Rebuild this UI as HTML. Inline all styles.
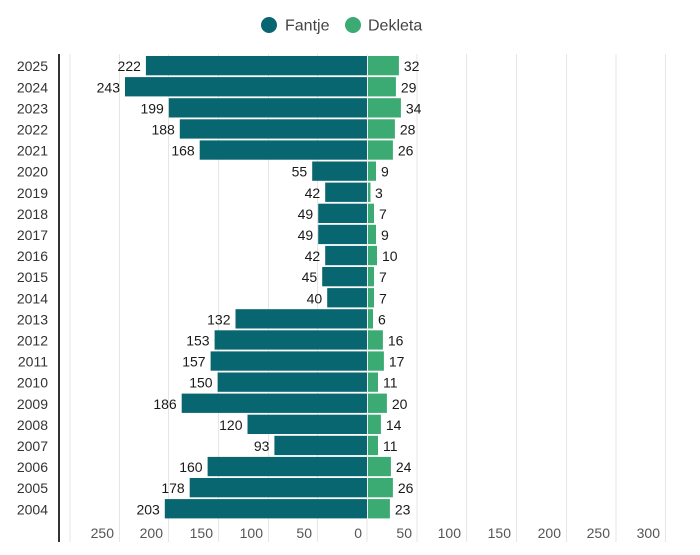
<!DOCTYPE html>
<html><head><meta charset="utf-8"><style>
html,body{margin:0;padding:0;background:#fff;}
svg{display:block;font-family:"Liberation Sans",Arial,sans-serif;}
.yl{font-size:14px;fill:#333;text-anchor:end;}
.vl{font-size:14px;fill:#1a1a1a;}
.tl{font-size:14px;fill:#555;text-anchor:end;}
.t{fill:#086671;}
.g{fill:#3caa73;}
.grid line{stroke:#e6e6e6;stroke-width:1;}
</style></head><body>
<svg width="700" height="555" viewBox="0 0 700 555" xmlns="http://www.w3.org/2000/svg">
<!-- legend -->
<circle cx="269" cy="25" r="8" fill="#086671"/>
<text x="285" y="30.5" font-size="16" fill="#444">Fantje</text>
<circle cx="353" cy="25" r="8" fill="#3caa73"/>
<text x="368" y="30.5" font-size="16" fill="#444">Dekleta</text>
<!-- grid -->
<g class="grid">
<line x1="70" y1="54" x2="70" y2="542"/>
<line x1="119.5" y1="54" x2="119.5" y2="542"/>
<line x1="168.5" y1="54" x2="168.5" y2="542"/>
<line x1="218.5" y1="54" x2="218.5" y2="542"/>
<line x1="268.5" y1="54" x2="268.5" y2="542"/>
<line x1="317.5" y1="54" x2="317.5" y2="542"/>
<line x1="367" y1="54" x2="367" y2="542"/>
<line x1="417" y1="54" x2="417" y2="542"/>
<line x1="466.5" y1="54" x2="466.5" y2="542"/>
<line x1="516.5" y1="54" x2="516.5" y2="542"/>
<line x1="566.5" y1="54" x2="566.5" y2="542"/>
<line x1="616" y1="54" x2="616" y2="542"/>
<line x1="665.5" y1="54" x2="665.5" y2="542"/>
</g>
<line x1="59" y1="54" x2="59" y2="542" stroke="#333" stroke-width="2"/>
<!-- tick labels -->
<text class="tl" x="114" y="538">250</text>
<text class="tl" x="163" y="538">200</text>
<text class="tl" x="213" y="538">150</text>
<text class="tl" x="263" y="538">100</text>
<text class="tl" x="312" y="538">50</text>
<text class="tl" x="362" y="538">0</text>
<text class="tl" x="412" y="538">50</text>
<text class="tl" x="461" y="538">100</text>
<text class="tl" x="511" y="538">150</text>
<text class="tl" x="561" y="538">200</text>
<text class="tl" x="610" y="538">250</text>
<text class="tl" x="660" y="538">300</text>

<!-- rows -->
<g>
<text class="yl" x="48" y="71.2">2025</text>
<rect class="t" x="145.9" y="56.0" width="221.1" height="19.3"/>
<rect class="g" x="368" y="56.0" width="30.9" height="19.3"/>
<text class="vl" x="140.9" y="71.2" text-anchor="end">222</text>
<text class="vl" x="403.9" y="71.2">32</text>

<text class="yl" x="48" y="92.3">2024</text>
<rect class="t" x="125.0" y="77.1" width="242.0" height="19.3"/>
<rect class="g" x="368" y="77.1" width="27.9" height="19.3"/>
<text class="vl" x="120.0" y="92.3" text-anchor="end">243</text>
<text class="vl" x="400.9" y="92.3">29</text>

<text class="yl" x="48" y="113.4">2023</text>
<rect class="t" x="168.8" y="98.2" width="198.2" height="19.3"/>
<rect class="g" x="368" y="98.2" width="32.9" height="19.3"/>
<text class="vl" x="163.8" y="113.4" text-anchor="end">199</text>
<text class="vl" x="405.9" y="113.4">34</text>

<text class="yl" x="48" y="134.5">2022</text>
<rect class="t" x="179.8" y="119.3" width="187.2" height="19.3"/>
<rect class="g" x="368" y="119.3" width="26.9" height="19.3"/>
<text class="vl" x="174.8" y="134.5" text-anchor="end">188</text>
<text class="vl" x="399.9" y="134.5">28</text>

<text class="yl" x="48" y="155.6">2021</text>
<rect class="t" x="199.7" y="140.4" width="167.3" height="19.3"/>
<rect class="g" x="368" y="140.4" width="24.9" height="19.3"/>
<text class="vl" x="194.7" y="155.6" text-anchor="end">168</text>
<text class="vl" x="397.9" y="155.6">26</text>

<text class="yl" x="48" y="176.7">2020</text>
<rect class="t" x="312.2" y="161.5" width="54.8" height="19.3"/>
<rect class="g" x="368" y="161.5" width="8.0" height="19.3"/>
<text class="vl" x="307.2" y="176.7" text-anchor="end">55</text>
<text class="vl" x="381.0" y="176.7">9</text>

<text class="yl" x="48" y="197.8">2019</text>
<rect class="t" x="325.2" y="182.6" width="41.8" height="19.3"/>
<rect class="g" x="368" y="182.6" width="2.5" height="19.3"/>
<text class="vl" x="320.2" y="197.8" text-anchor="end">42</text>
<text class="vl" x="375.0" y="197.8">3</text>

<text class="yl" x="48" y="218.9">2018</text>
<rect class="t" x="318.2" y="203.7" width="48.8" height="19.3"/>
<rect class="g" x="368" y="203.7" width="6.0" height="19.3"/>
<text class="vl" x="313.2" y="218.9" text-anchor="end">49</text>
<text class="vl" x="379.0" y="218.9">7</text>

<text class="yl" x="48" y="240.0">2017</text>
<rect class="t" x="318.2" y="224.8" width="48.8" height="19.3"/>
<rect class="g" x="368" y="224.8" width="8.0" height="19.3"/>
<text class="vl" x="313.2" y="240.0" text-anchor="end">49</text>
<text class="vl" x="381.0" y="240.0">9</text>

<text class="yl" x="48" y="261.1">2016</text>
<rect class="t" x="325.2" y="245.9" width="41.8" height="19.3"/>
<rect class="g" x="368" y="245.9" width="9.0" height="19.3"/>
<text class="vl" x="320.2" y="261.1" text-anchor="end">42</text>
<text class="vl" x="382.0" y="261.1">10</text>

<text class="yl" x="48" y="282.2">2015</text>
<rect class="t" x="322.2" y="267.0" width="44.8" height="19.3"/>
<rect class="g" x="368" y="267.0" width="6.0" height="19.3"/>
<text class="vl" x="317.2" y="282.2" text-anchor="end">45</text>
<text class="vl" x="379.0" y="282.2">7</text>

<text class="yl" x="48" y="303.3">2014</text>
<rect class="t" x="327.2" y="288.1" width="39.8" height="19.3"/>
<rect class="g" x="368" y="288.1" width="6.0" height="19.3"/>
<text class="vl" x="322.2" y="303.3" text-anchor="end">40</text>
<text class="vl" x="379.0" y="303.3">7</text>

<text class="yl" x="48" y="324.4">2013</text>
<rect class="t" x="235.5" y="309.2" width="131.5" height="19.3"/>
<rect class="g" x="368" y="309.2" width="5.0" height="19.3"/>
<text class="vl" x="230.5" y="324.4" text-anchor="end">132</text>
<text class="vl" x="378.0" y="324.4">6</text>

<text class="yl" x="48" y="345.5">2012</text>
<rect class="t" x="214.6" y="330.3" width="152.4" height="19.3"/>
<rect class="g" x="368" y="330.3" width="14.9" height="19.3"/>
<text class="vl" x="209.6" y="345.5" text-anchor="end">153</text>
<text class="vl" x="387.9" y="345.5">16</text>

<text class="yl" x="48" y="366.6">2011</text>
<rect class="t" x="210.6" y="351.4" width="156.4" height="19.3"/>
<rect class="g" x="368" y="351.4" width="15.9" height="19.3"/>
<text class="vl" x="205.6" y="366.6" text-anchor="end">157</text>
<text class="vl" x="388.9" y="366.6">17</text>

<text class="yl" x="48" y="387.7">2010</text>
<rect class="t" x="217.6" y="372.5" width="149.4" height="19.3"/>
<rect class="g" x="368" y="372.5" width="10.0" height="19.3"/>
<text class="vl" x="212.6" y="387.7" text-anchor="end">150</text>
<text class="vl" x="383.0" y="387.7">11</text>

<text class="yl" x="48" y="408.8">2009</text>
<rect class="t" x="181.7" y="393.6" width="185.3" height="19.3"/>
<rect class="g" x="368" y="393.6" width="18.9" height="19.3"/>
<text class="vl" x="176.7" y="408.8" text-anchor="end">186</text>
<text class="vl" x="391.9" y="408.8">20</text>

<text class="yl" x="48" y="429.9">2008</text>
<rect class="t" x="247.5" y="414.7" width="119.5" height="19.3"/>
<rect class="g" x="368" y="414.7" width="12.9" height="19.3"/>
<text class="vl" x="242.5" y="429.9" text-anchor="end">120</text>
<text class="vl" x="385.9" y="429.9">14</text>

<text class="yl" x="48" y="451.0">2007</text>
<rect class="t" x="274.4" y="435.8" width="92.6" height="19.3"/>
<rect class="g" x="368" y="435.8" width="10.0" height="19.3"/>
<text class="vl" x="269.4" y="451.0" text-anchor="end">93</text>
<text class="vl" x="383.0" y="451.0">11</text>

<text class="yl" x="48" y="472.1">2006</text>
<rect class="t" x="207.6" y="456.9" width="159.4" height="19.3"/>
<rect class="g" x="368" y="456.9" width="22.9" height="19.3"/>
<text class="vl" x="202.6" y="472.1" text-anchor="end">160</text>
<text class="vl" x="395.9" y="472.1">24</text>

<text class="yl" x="48" y="493.2">2005</text>
<rect class="t" x="189.7" y="478.0" width="177.3" height="19.3"/>
<rect class="g" x="368" y="478.0" width="24.9" height="19.3"/>
<text class="vl" x="184.7" y="493.2" text-anchor="end">178</text>
<text class="vl" x="397.9" y="493.2">26</text>

<text class="yl" x="48" y="514.3">2004</text>
<rect class="t" x="164.8" y="499.1" width="202.2" height="19.3"/>
<rect class="g" x="368" y="499.1" width="21.9" height="19.3"/>
<text class="vl" x="159.8" y="514.3" text-anchor="end">203</text>
<text class="vl" x="394.9" y="514.3">23</text>
</g>
</svg>
</body></html>
